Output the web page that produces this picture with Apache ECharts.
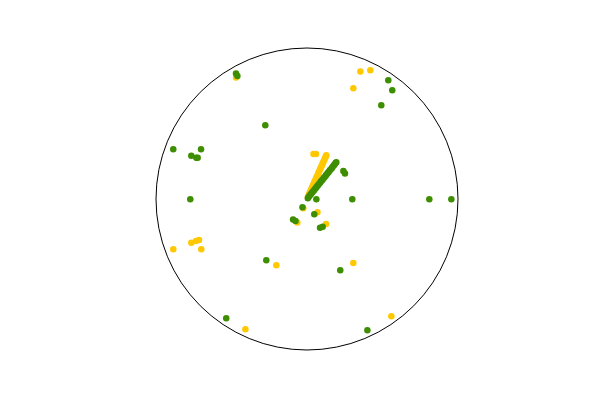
<!DOCTYPE html>
<html>
<head>
<meta charset="utf-8">
<script src="https://cdn.jsdelivr.net/npm/echarts@6/dist/echarts.min.js"></script>
<style>html,body{margin:0;padding:0;background:#fff}#c{width:600px;height:400px}</style>
</head>
<body>
<div id="c"></div>
<script>
// Scattered points: [radius (0-100), angle (deg, counter-clockwise from east)]
const yellowRadius = [91.6, 95.0, 79.5, 94.6, 81.9, 78.6, 76.5, 77.5, 48.4, 95.5, 16.8, 6.6, 11.2, 20.8, 52.3, 95.7, 30.1, 30.4, 93.1];
const yellowAngle  = [67.3, 63.8, 67.3, 200.6, 200.7, 200.7, 200.8, 205.4, 245.2, 244.7, 247.6, 248.3, 308.3, 307.2, 305.9, 305.7, 81.8, 78.7, 120.3];
const yellowStreakRadius = [1.5, 2.6, 3.7, 4.8, 5.9, 7.0, 8.1, 9.2, 10.3, 11.4, 12.5, 13.6, 14.7, 15.8, 16.9, 18.0, 19.1, 20.2, 21.3, 22.4, 23.5, 24.6, 25.7, 26.8, 27.9, 29.0, 30.1, 31.0, 31.6];
const yellowStreakAngle  = [66.5, 66.0, 66.4, 66.2, 66.0, 66.3, 66.1, 66.4, 66.2, 66.0, 66.3, 66.2, 66.1, 66.4, 66.2, 66.0, 66.3, 66.2, 66.1, 66.3, 66.2, 66.0, 66.3, 66.2, 66.1, 66.3, 66.2, 66.1, 66.2];

const greenRadius = [95.5, 93.6, 56.1, 94.5, 77.5, 81.8, 77.4, 78.2, 95.3, 91.5, 79.2, 77.3, 48.7, 95.4, 16.4, 16.4, 6.3, 30.0, 81.0, 95.6, 6.2, 11.2, 20.9, 21.1, 52.1, 95.7, 30.4, 30.3];
const greenAngle  = [119.5, 119.5, 119.5, 159.6, 154.9, 159.5, 159.3, 159.6, 55.6, 51.9, 51.6, 180.1, 236.4, 235.9, 235.7, 242.4, 241.5, 359.6, 359.9, 359.9, 358.0, 295.5, 294.4, 299.5, 295.0, 294.7, 37.6, 33.9];
const greenStreakRadius = [0.8, 1.9, 3.1, 4.0, 5.2, 6.1, 7.3, 8.2, 9.4, 10.3, 11.5, 12.4, 13.6, 14.5, 15.7, 16.6, 17.8, 18.7, 19.9, 20.8, 22.0, 22.9, 24.1, 25.0, 26.2, 27.1, 28.3, 29.2, 30.4, 31.1];
const greenStreakAngle  = [46.0, 50.5, 51.2, 51.0, 51.5, 51.3, 51.2, 51.5, 51.4, 51.3, 51.5, 51.4, 51.2, 51.5, 51.4, 51.3, 51.5, 51.4, 51.2, 51.5, 51.4, 51.3, 51.5, 51.4, 51.2, 51.5, 51.4, 51.3, 51.5, 51.4];

function pairs(r, a) { return r.map((v, i) => [v, a[i]]); }

const chart = echarts.init(document.getElementById('c'), null, {renderer: 'canvas'});
const yellow = '#ffc800';
const green = '#3d8e00';
const dot = (c) => ({ color: c, opacity: 1 });
const size = 6.5;
chart.setOption({
  animation: false,
  polar: { center: [307, 199], radius: 151 },
  angleAxis: {
    type: 'value', min: 0, max: 360, startAngle: 0, clockwise: false,
    axisLine: { show: true, lineStyle: { color: '#000', width: 1 } },
    axisTick: { show: false }, axisLabel: { show: false }, splitLine: { show: false }
  },
  radiusAxis: {
    type: 'value', min: 0, max: 100,
    axisLine: { show: false }, axisTick: { show: false }, axisLabel: { show: false }, splitLine: { show: false }
  },
  series: [
    { type: 'scatter', coordinateSystem: 'polar', symbolSize: size, itemStyle: dot(yellow), data: pairs(yellowRadius, yellowAngle) },
    { type: 'scatter', coordinateSystem: 'polar', symbolSize: size, itemStyle: dot(yellow), data: pairs(yellowStreakRadius, yellowStreakAngle) },
    { type: 'scatter', coordinateSystem: 'polar', symbolSize: size, itemStyle: dot(green), data: pairs(greenRadius, greenAngle) },
    { type: 'scatter', coordinateSystem: 'polar', symbolSize: size, itemStyle: dot(green), data: pairs(greenStreakRadius, greenStreakAngle) }
  ]
});
</script>
</body>
</html>
